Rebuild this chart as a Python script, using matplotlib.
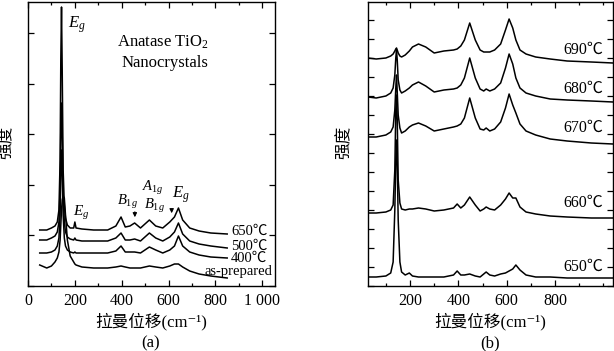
import matplotlib
matplotlib.use("Agg")
import matplotlib.pyplot as plt
import numpy as np
from matplotlib.ticker import MultipleLocator, FixedLocator

FAMS = ['Liberation Serif', 'Noto Sans CJK SC', 'Noto Sans CJK JP', 'Noto Sans CJK TC',
        'DejaVu Sans']
plt.rcParams['font.family'] = FAMS
plt.rcParams['mathtext.fontset'] = 'custom'
plt.rcParams['mathtext.rm'] = 'Liberation Serif'
plt.rcParams['mathtext.it'] = 'Liberation Serif:italic'

# values: depth below the panel top (px), converted to intensity below
BASE = 286

# ---- panel (a): anatase TiO2 nanocrystals ----
a_shift = [50, 80, 100, 115, 125, 132, 137, 140, 143, 146, 150, 155, 160, 168, 180, 195,
           200, 205, 230, 280, 340, 375, 397, 415, 435, 455, 480, 518, 545, 575, 605,
           625, 642, 660, 690, 730, 780, 850]
a_650 = [230, 230, 228, 226, 222, 210, 160, 60, 7, 70, 170, 205, 218, 225, 228, 228,
         222, 228, 229, 230, 230, 226, 217, 227, 226, 223, 228, 220, 226, 228, 222,
         217, 208, 220, 228, 231, 233, 234]
a_500 = [240, 240, 238, 236, 232, 222, 190, 130, 103, 135, 195, 222, 232, 237, 239, 240,
         238, 240, 241, 241, 241, 238, 233, 240, 240, 239, 241, 233, 238, 241, 237,
         232, 223, 234, 241, 244, 246, 248]
a_400 = [253, 253, 252, 250, 246, 238, 215, 175, 150, 170, 215, 238, 246, 250, 252, 253,
         252, 253, 253, 253, 253, 251, 246, 252, 252, 252, 253, 247, 250, 253, 250,
         246, 236, 246, 252, 255, 257, 258]
a_asprep = [265, 268, 266, 262, 258, 252, 240, 225, 210, 200, 196, 198, 215, 240, 256, 262,
            264, 265, 267, 268, 268, 267, 266, 267, 268, 268, 268, 266, 267, 268, 266,
            264, 264, 267, 271, 274, 276, 278]
a_series = [a_650, a_500, a_400, a_asprep]
a_labels = ['650℃', '500℃', '400℃', 'as-prepared']
a_label_y = [55, 40, 28, 15]

# ---- panel (b): 650-690 ℃ ----
b_shift = [26, 60, 100, 120, 130, 137, 141, 144, 147, 151, 158, 165, 180, 197, 210, 235,
           265, 300, 340, 380, 395, 410, 425, 447, 470, 490, 505, 515, 530, 550, 575,
           595, 610, 625, 638, 655, 680, 720, 780, 850, 950, 1040]
b_690 = [58, 59, 58, 56, 54, 51, 49, 48, 50, 53, 56, 57, 55, 51, 47, 44,
         47, 53, 51, 50, 49, 46, 40, 23, 40, 50, 52, 52, 52, 50, 44,
         30, 19, 28, 40, 50, 54, 57, 59, 61, 62, 63]
b_680 = [97, 98, 96, 93, 88, 75, 58, 50, 60, 80, 90, 93, 91, 88, 85, 82,
         86, 92, 90, 89, 88, 85, 78, 58, 78, 89, 91, 89, 91, 89, 83,
         68, 54, 64, 78, 88, 93, 96, 99, 100, 101, 102]
b_670 = [137, 137, 135, 132, 127, 110, 88, 75, 92, 115, 128, 133, 131, 127, 125, 123,
         126, 131, 129, 127, 126, 124, 118, 98, 118, 129, 130, 128, 131, 129, 122,
         108, 94, 105, 113, 124, 131, 135, 139, 141, 143, 144]
b_660 = [213, 213, 212, 210, 205, 170, 110, 95, 120, 180, 203, 209, 210, 209, 209, 208,
         209, 211, 210, 208, 204, 208, 205, 197, 205, 211, 209, 207, 209, 210, 205,
         199, 193, 198, 198, 207, 212, 214, 216, 217, 218, 218]
b_650 = [277, 277, 276, 273, 262, 210, 160, 140, 165, 220, 262, 272, 275, 273, 276, 277,
         277, 277, 277, 275, 271, 275, 275, 274, 276, 277, 274, 272, 275, 276, 274,
         273, 271, 269, 265, 270, 275, 277, 277, 278, 278, 278]
b_series = [b_690, b_680, b_670, b_660, b_650]
b_labels = ['690℃', '680℃', '670℃', '660℃', '650℃']
b_label_y = [236, 197, 158, 83, 19]

W, H = 614, 351
fig = plt.figure(figsize=(W / 100, H / 100), dpi=100)
axA = fig.add_axes([28 / W, 65 / H, 247 / W, 284 / H])
axB = fig.add_axes([368 / W, 65 / H, 245 / W, 284 / H])


def style(ax, xlim, xmaj, ystep, labels):
    ax.set_xlim(*xlim)
    ax.set_ylim(0, 284)
    ax.xaxis.set_major_locator(FixedLocator(xmaj))
    ax.xaxis.set_minor_locator(MultipleLocator(100))
    ax.yaxis.set_major_locator(MultipleLocator(ystep))
    ax.set_xticklabels(labels)
    ax.set_yticklabels([])
    ax.tick_params(which='both', direction='in', top=True, right=True, width=0.9,
                   labelsize=11.5, pad=5)
    ax.tick_params(which='major', length=4.5)
    ax.tick_params(which='minor', length=2.5)
    for s in ax.spines.values():
        s.set_linewidth(1.0)


for ys in a_series:
    axA.plot(a_shift, BASE - np.array(ys), color='black', lw=1.1)
for ys in b_series:
    axB.plot(b_shift, BASE - np.array(ys), color='black', lw=1.1)

style(axA, (0, 1054), [0, 200, 400, 600, 800, 1000], 50.6,
      ['0', '200', '400', '600', '800', '1 000'])
style(axB, (26, 1040), [200, 400, 600, 800], 19, ['200', '400', '600', '800'])

# curve labels
for lab, y in zip(a_labels, a_label_y):
    axA.text(1042 if lab == 'as-prepared' else 1022, y, lab, ha='right', va='center',
             fontsize=10.5)
for lab, y in zip(b_labels, b_label_y):
    axB.text(916, y, lab, ha='center', va='center', fontsize=11.5)

# peak annotations in (a)
axA.text(172, 261, '$E_g$', fontsize=12, va='center')
axA.text(576, 244, 'Anatase TiO$_2$', fontsize=12, ha='center', va='center')
axA.text(584, 223, 'Nanocrystals', fontsize=12, ha='center', va='center')
axA.text(192, 73, '$E_g$', fontsize=11, va='center')
axA.text(426, 84, '$B_{1g}$', fontsize=10.5, ha='center', va='center')
axA.text(533, 98, '$A_{1g}$', fontsize=10.5, ha='center', va='center')
axA.text(538, 80, '$B_{1g}$', fontsize=10.5, ha='center', va='center')
axA.text(652, 91, '$E_g$', fontsize=12, ha='center', va='center')
axA.annotate('', xy=(456, 66), xytext=(456, 77),
             arrowprops=dict(arrowstyle='-|>', color='black', lw=0.8,
                             mutation_scale=6))
axA.annotate('', xy=(613, 70), xytext=(613, 79),
             arrowprops=dict(arrowstyle='-|>', color='black', lw=0.8,
                             mutation_scale=6))

# axis titles and panel tags
for cx, tag in [(151, '(a)'), (490, '(b)')]:
    fig.text(cx / W, 1 - 322 / H, '拉曼位移(cm⁻¹)', ha='center', va='center',
             fontsize=12, family=FAMS)
    fig.text(cx / W, 1 - 343 / H, tag, ha='center', va='center', fontsize=12)
for cx in (7, 345):
    fig.text(cx / W, 1 - 142 / H, '强度', rotation=90, ha='center', va='center',
             fontsize=12, family=FAMS)

fig.savefig('out.png', dpi=100, facecolor='white')
